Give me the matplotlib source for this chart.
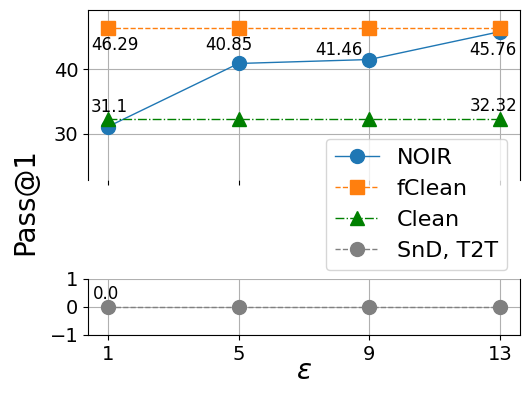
import matplotlib
matplotlib.use("Agg")
import matplotlib.pyplot as plt

eps = [1, 5, 9, 13]
noir = [31.1, 40.85, 41.46, 45.76]
fclean = [46.29, 46.29, 46.29, 46.29]
clean = [32.32, 32.32, 32.32, 32.32]
snd_t2t = [0.0, 0.0, 0.0, 0.0]

fig = plt.figure(figsize=(5.28, 3.95), dpi=100)
ax1 = fig.add_axes([0.1667, 0.544, 0.818, 0.431])
ax2 = fig.add_axes([0.1667, 0.152, 0.818, 0.142], sharex=ax1)

for ax in (ax1, ax2):
    ax.plot(eps, noir, "-", color="tab:blue", marker="o", markersize=10, lw=1, label="NOIR")
    ax.plot(eps, fclean, "--", color="tab:orange", marker="s", markersize=10, lw=1, label="fClean")
    ax.plot(eps, clean, "-.", color="green", marker="^", markersize=10, lw=1, label="Clean")
    ax.plot(eps, snd_t2t, "--", color="gray", marker="o", markersize=10, lw=1, label="SnD, T2T")
    ax.grid(True)
    ax.tick_params(labelsize=14)

ax1.set_ylim(22.9, 49.1)
ax1.set_yticks([30, 40])
ax2.set_ylim(-1, 1)
ax2.set_yticks([-1, 0, 1])
ax2.set_xticks(eps)

ax1.spines["bottom"].set_visible(False)
ax2.spines["top"].set_visible(False)
ax1.tick_params(labelbottom=False)

# value labels (offsets in points)
labels = [
    (ax1, 1, fclean[0], "46.29", (5, -12)),
    (ax1, 5, noir[1], "40.85", (-7, 13)),
    (ax1, 9, noir[2], "41.46", (-22, 7)),
    (ax1, 13, noir[3], "45.76", (-5, -13)),
    (ax1, 1, noir[0], "31.1", (1, 14)),
    (ax1, 13, clean[3], "32.32", (-5, 9)),
    (ax2, 1, snd_t2t[0], "0.0", (-1, 9)),
]
for ax, x, y, s, off in labels:
    ax.annotate(s, (x, y), xytext=off, textcoords="offset points",
                ha="center", va="center", fontsize=12)

ax2.set_xlabel(r"$\varepsilon$", fontsize=20, labelpad=-5)
fig.text(0.048, 0.49, "Pass@1", rotation=90, fontsize=20, ha="center", va="center")

ax1.legend(loc="lower right", bbox_to_anchor=(507 / 528, 125 / 395),
           bbox_transform=fig.transFigure, borderaxespad=0, fontsize=16)

plt.savefig("out.png")
